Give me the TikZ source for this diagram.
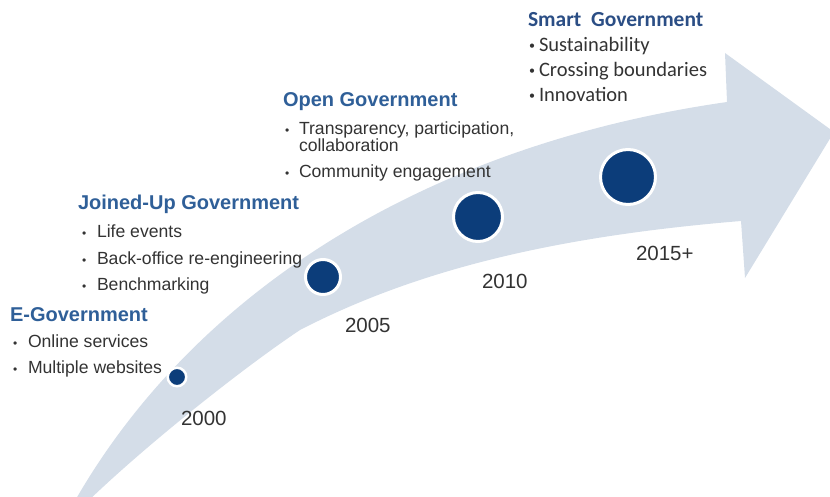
\documentclass[tikz,border=0pt]{standalone}
\usepackage{fontspec}
\setmainfont{Liberation Sans}
\newfontfamily\calibrifont{Carlito}
\definecolor{titleblue}{HTML}{2F5F98}
\definecolor{smartblue}{HTML}{2B4E85}
\definecolor{textgray}{HTML}{333333}
\definecolor{dotblue}{HTML}{0C3D7A}
\definecolor{arrowfill}{HTML}{D4DDE8}
\begin{document}
\begin{tikzpicture}[x=1pt,y=-1pt,
  every node/.style={inner sep=0pt, outer sep=0pt},
  title/.style={anchor=base west, font=\fontsize{20}{22}\selectfont\bfseries, text=titleblue},
  item/.style={anchor=base west, font=\fontsize{17.6}{20}\selectfont, text=textgray},
  bulletmark/.style={anchor=base west, font=\fontsize{12}{14}\selectfont, text=textgray},
  smarttitle/.style={anchor=base west, font=\calibrifont\fontsize{21.5}{24}\selectfont\bfseries, text=smartblue},
  smartitem/.style={anchor=base west, font=\calibrifont\fontsize{20.5}{24}\selectfont, text=textgray},
  smartbullet/.style={anchor=base west, font=\calibrifont\fontsize{12}{14}\selectfont, text=textgray},
  year/.style={anchor=base west, font=\fontsize{20.5}{24}\selectfont, text=textgray},
  milestone/.style={circle, fill=dotblue, draw=white, line width=3pt}]
\useasboundingbox (0,0) rectangle (830,497);
\clip (0,0) rectangle (830,497);

% curved timeline arrow
\fill[arrowfill] (72,506) .. controls (190,296) and (420,146) .. (727,102)
  -- (725,53) -- (834,132) -- (745,278) -- (741,221)
  .. controls (560,236) and (420,268) .. (300,330)
  .. controls (240,370) and (140,450) .. (83,506) -- cycle;

% milestones
\node[milestone, line width=2.5pt, minimum size=18.5pt] (m2000) at (177,377) {};
\node[milestone, minimum size=35pt] (m2005) at (323,277) {};
\node[milestone, minimum size=49pt] (m2010) at (478,217) {};
\node[milestone, minimum size=55pt] (m2015) at (628,177) {};

% years
\node[year] (y2000) at (181,425) {2000};
\node[year] (y2005) at (345,332) {2005};
\node[year] (y2010) at (482,288) {2010};
\node[year] (y2015) at (636,261) {2015+};

% E-Government
\node[title] (egov) at (10,321) {E-Government};
\node[bulletmark] (egovb1) at (13,347) {•};
\node[item] (egov1) at (28,347) {Online services};
\node[bulletmark] (egovb2) at (13,373) {•};
\node[item] (egov2) at (28,373) {Multiple websites};

% Joined-Up Government
\node[title] (jgov) at (78,210) {Joined-Up Government};
\node[bulletmark] (jgovb1) at (82,237) {•};
\node[item] (jgov1) at (97,237) {Life events};
\node[bulletmark] (jgovb2) at (82,264) {•};
\node[item] (jgov2) at (97,264) {Back-office re-engineering};
\node[bulletmark] (jgovb3) at (82,290) {•};
\node[item] (jgov3) at (97,290) {Benchmarking};

% Open Government
\node[title] (ogov) at (283,107) {Open Government};
\node[bulletmark] (ogovb1) at (285,135) {•};
\node[item] (ogov1) at (299,135) {Transparency, participation,};
\node[item] (ogov1b) at (299,152) {collaboration};
\node[bulletmark] (ogovb2) at (285,178) {•};
\node[item] (ogov2) at (299,178) {Community engagement};

% Smart Government
\node[smarttitle] (sgov) at (528,27) {Smart\ \ Government};
\node[smartbullet] (sgovb1) at (529,50) {•};
\node[smartitem] (sgov1) at (539,52) {Sustainability};
\node[smartbullet] (sgovb2) at (529,75) {•};
\node[smartitem] (sgov2) at (539,77) {Crossing boundaries};
\node[smartbullet] (sgovb3) at (529,100) {•};
\node[smartitem] (sgov3) at (539,102) {Innovation};
\end{tikzpicture}
\end{document}
